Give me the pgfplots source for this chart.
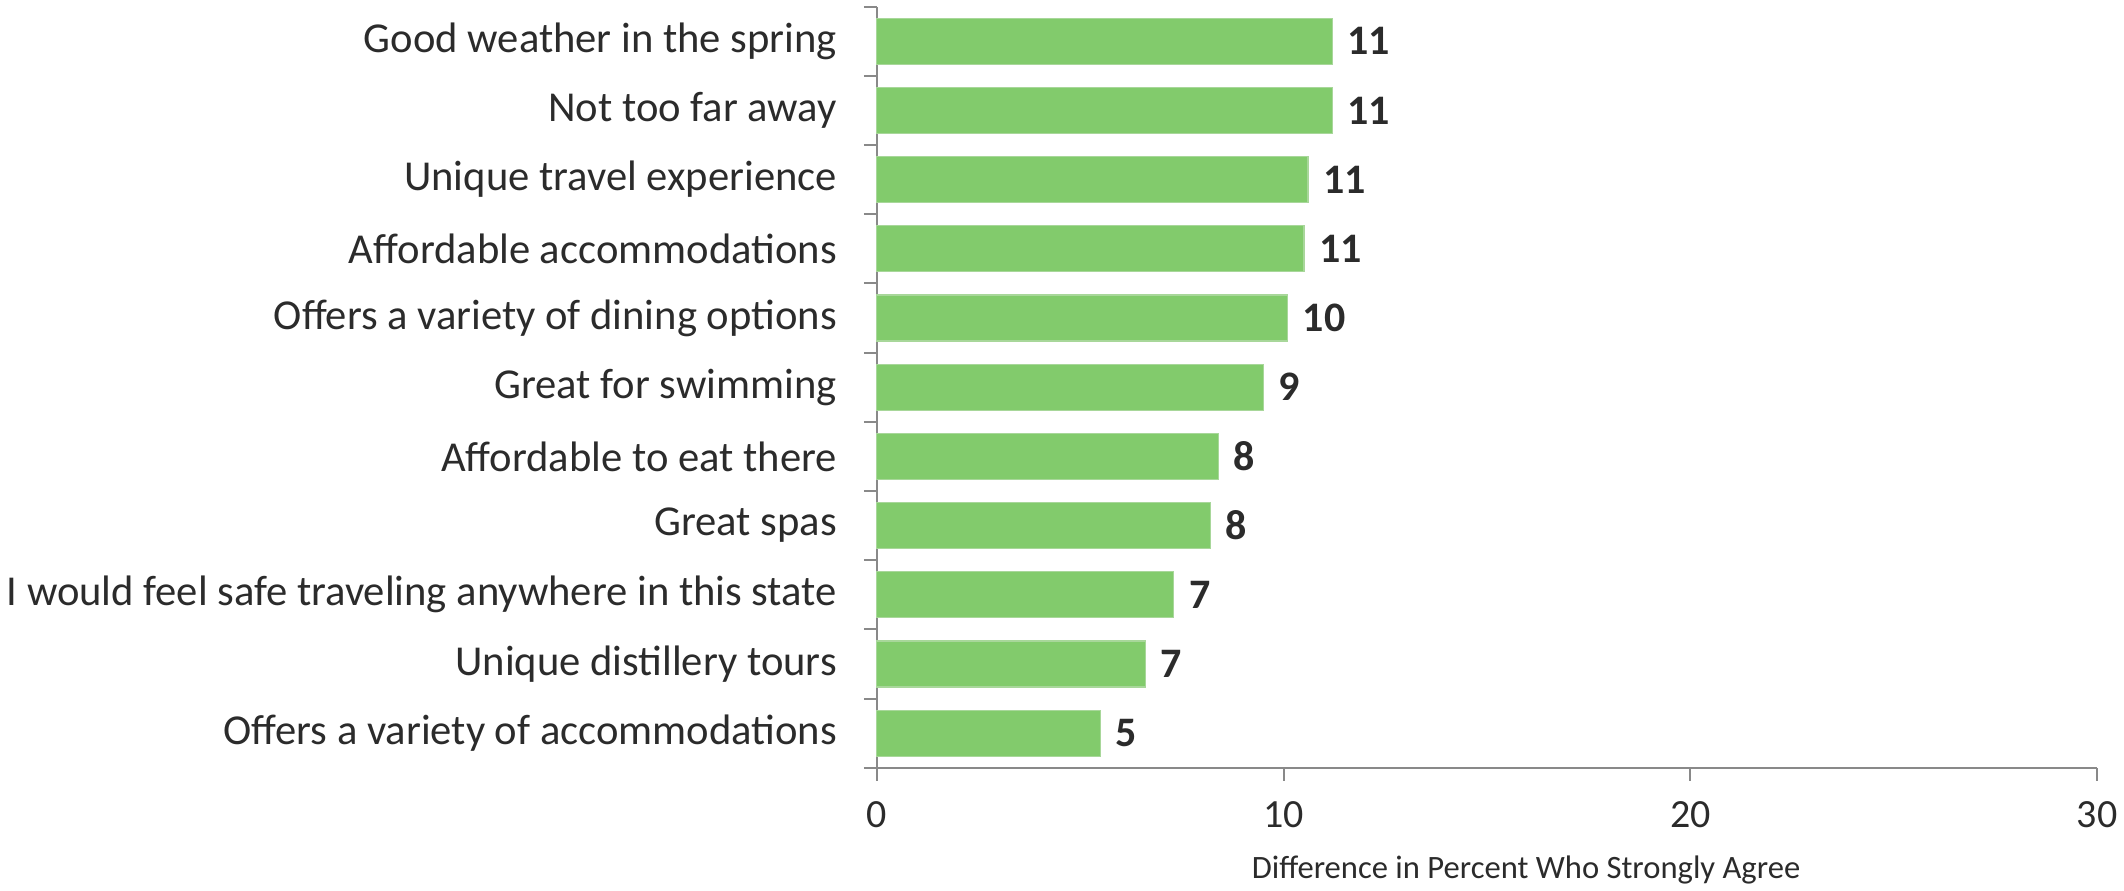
\documentclass[border=0pt]{standalone}
\usepackage{pgfplots}
\pgfplotsset{compat=1.18}
\usepackage{pgfplotstable}
\usepackage{fontspec}
\setmainfont{Carlito}

\definecolor{bargreen}{HTML}{82CB6C}
\definecolor{baredge}{HTML}{A8D79A}
\definecolor{axisgray}{HTML}{898989}
\definecolor{txt}{HTML}{2B2B2B}

% values, label = rounded value shown
\pgfplotstableread{
pos val lab
10 11.2 11
9  11.2 11
8  10.6 11
7  10.5 11
6  10.1 10
5  9.5  9
4  8.4  8
3  8.2  8
2  7.3  7
1  6.6  7
0  5.5  5
}\datatable

\begin{document}
\begin{tikzpicture}
\begin{axis}[
  scale only axis,
  width=610pt, height=380.5pt,
  xmin=0, xmax=30,
  ymin=-0.5, ymax=10.5,
  axis x line*=bottom, axis y line*=left,
  axis line style={draw=axisgray, line width=1pt, -},
  tick align=outside,
  major tick length=6.5pt,
  tick style={draw=axisgray, line width=1pt},
  xtick={0,10,20,30},
  ytick={-0.5,0.5,...,10.5},
  yticklabels={},
  extra y ticks={0,1,2,3,4,5,6,7,8,9,10},
  extra y tick labels={
    Offers a variety of accommodations,
    Unique distillery tours,
    I would feel safe traveling anywhere in this state,
    Great spas,
    Affordable to eat there,
    Great for swimming,
    Offers a variety of dining options,
    Affordable accommodations,
    Unique travel experience,
    Not too far away,
    Good weather in the spring},
  extra y tick style={tick style={draw=none}},
  /pgf/number format/assume math mode=true,
  ticklabel style={text=txt},
  xticklabel style={font=\fontsize{20}{23}\selectfont, yshift=-7pt},
  yticklabel style={font=\fontsize{21.3}{25}\selectfont, xshift=-10pt},
  xlabel={Difference in Percent Who Strongly Agree},
  xlabel style={at={(axis description cs:0.532,0)}, anchor=center, yshift=-51pt,
    font=\fontsize{16.3}{19}\selectfont, text=txt},
  point meta=explicit symbolic,
  nodes near coords,
  nodes near coords style={font=\bfseries\fontsize{21}{24}\selectfont, text=txt,
    anchor=west, xshift=4pt},
  clip=false,
]
\addplot[xbar, bar width=23pt, fill=bargreen, draw=baredge, line width=0.6pt]
  table[x=val, y=pos, meta=lab] {\datatable};
\end{axis}
\end{tikzpicture}
\end{document}
